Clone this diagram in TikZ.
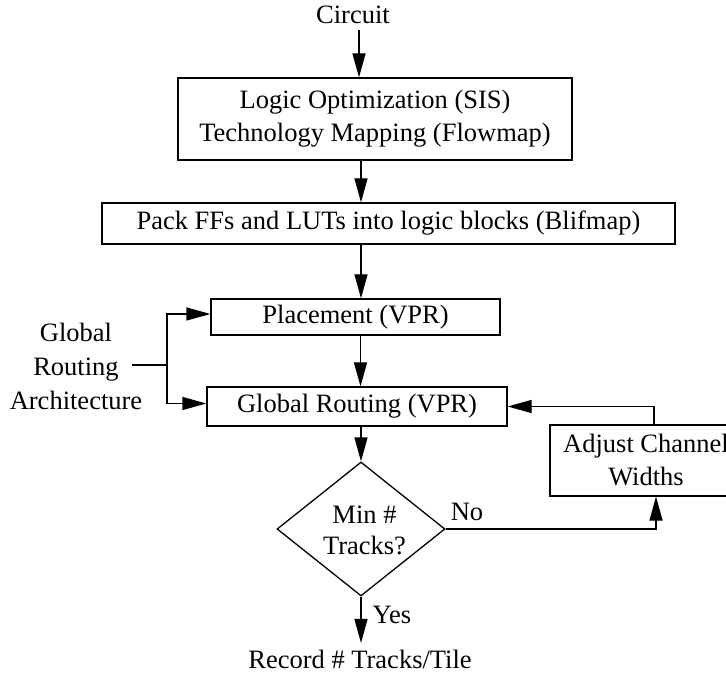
\documentclass[tikz,border=0pt]{standalone}
\usepackage{fontspec}
\setmainfont{Liberation Serif}
\usetikzlibrary{arrows.meta,shapes.geometric}
\begin{document}
\begin{tikzpicture}[x=1pt,y=-1pt,
  font=\fontsize{26.5}{33}\selectfont,
  line width=1.3pt,
  >={Triangle[length=24pt,width=13pt]},
  box/.style={draw, rectangle, inner sep=0pt, align=center},
  lbl/.style={inner sep=0pt, anchor=base}]
\useasboundingbox (0,0) rectangle (726,676);
\clip (0,0) rectangle (726,676);

% labels
\node[lbl] (circ) at (353,24) {Circuit};
\node[lbl] (rec) at (360,668) {Record \# Tracks/Tile};
\node[lbl] (yes) at (392,623) {Yes};
\node[lbl] (no) at (467,520) {No};
\node[inner sep=0pt, align=center, font=\fontsize{26.5}{34}\selectfont] (arch) at (76,366) {Global\\Routing\\Architecture};

% boxes
\node[box, minimum width=394pt, minimum height=82pt] (opt) at (375,119)
  {Logic Optimization (SIS)\\Technology Mapping (Flowmap)};
\node[box, minimum width=573pt, minimum height=41pt] (pack) at (388.5,223.5)
  {Pack FFs and LUTs into logic blocks (Blifmap)};
\node[box, minimum width=289pt, minimum height=36pt] (place) at (355.5,317)
  {Placement (VPR)};
\node[box, minimum width=300pt, minimum height=39pt] (gr) at (357,406.5)
  {Global Routing (VPR)};
\node[box, minimum width=192pt, minimum height=71pt] (adj) at (646,460.5)
  {Adjust Channel\\Widths};
\node[draw, diamond, inner sep=0pt, minimum width=168pt, minimum height=134pt] (dec) at (361,529) {};
\node[inner sep=0pt, align=center, font=\fontsize{26.5}{31}\selectfont] (dectxt) at (364.5,530) {Min \#\\Tracks?};

% connectors
\coordinate (c1) at (359,30);
\draw[->] (c1) -- (c1 |- opt.north);
\draw[->] ([xshift=-14pt]opt.south) -- ([xshift=-14pt]opt.south |- pack.north);
\draw[->] ([xshift=-27.5pt]pack.south) -- ([xshift=-27.5pt]pack.south |- place.north);
\draw[->] ([xshift=5pt]place.south) -- ([xshift=5pt]place.south |- gr.north);
\draw[->] (gr.south -| dec.north) -- (dec.north);

\coordinate (stub) at (132,365);
\coordinate (jn) at (167,365);
\draw (stub) -- (jn);
\draw[->] (jn) |- ([yshift=3pt]place.west);
\draw[->] (jn) |- ([yshift=3pt]gr.west);

\draw[->] ([xshift=8pt]adj.north) |- (gr.east);
\draw[->] (dec.east) -| ([xshift=10pt]adj.south);
\draw[->, shorten >=6pt] (dec.south) -- (dec.south |- rec.north);
\end{tikzpicture}
\end{document}
